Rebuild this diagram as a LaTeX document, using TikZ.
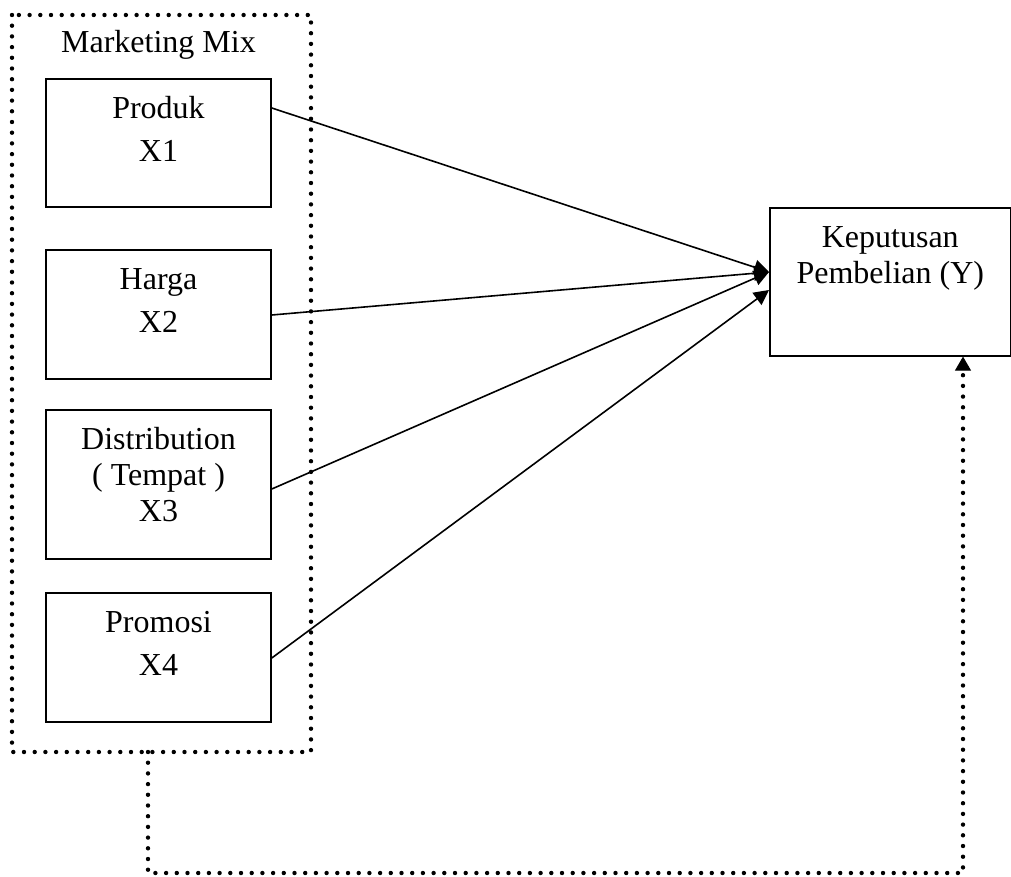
\documentclass[tikz,border=0pt]{standalone}
\usepackage{fontspec}
\setmainfont{Liberation Serif}
\usetikzlibrary{arrows.meta, positioning}

\begin{document}
\begin{tikzpicture}[x=0.5pt, y=-0.5pt, every node/.style={font=\fontsize{16}{18}\selectfont}]
			\tikzstyle{varbox}=[draw, line width=0.8pt, rectangle, anchor=north, inner sep=0pt, minimum width=112.5pt, align=center]
			\tikzstyle{dotline}=[line width=2.2pt, line cap=round, dash pattern=on 0pt off 5.35pt]
			\tikzstyle{arr}=[line width=0.8pt, -{Triangle[length=7.5pt, width=7.5pt]}]
			
			\useasboundingbox (0,0) rectangle (1011,877);
			%%
			\node (x1) at (158.5,78) [varbox, text height=41.5pt, text depth=22.5pt] {Produk\\[3.5pt]X1};
			\node (x2) at (158.5,249) [varbox, text height=41.5pt, text depth=23pt] {Harga\\[3.5pt]X2};
			\node (x3) at (158.5,409) [varbox, text height=56pt, text depth=18.5pt] {Distribution\\( Tempat )\\X3};
			\node (x4) at (158.5,592) [varbox, text height=41.5pt, text depth=23pt] {Promosi\\[3.5pt]X4};
			\node (kp) at (769,207) [varbox, anchor=north west, minimum width=120.5pt, text height=38pt, text depth=36pt] {Keputusan\\Pembelian (Y)};
			
			\node [above=12.5pt of x1.north, anchor=base](mixlbl) {Marketing Mix};
			
			\draw [dotline] (12,15) rectangle (311,752);
			
			\draw [arr] ([yshift=-15pt]x1.north east) -- ([yshift=-32.5pt]kp.north west);
			\draw [arr] ([yshift=-33pt]x2.north east) -- ([yshift=-32.5pt]kp.north west);
			\draw [arr] ([yshift=-40pt]x3.north east) -- ([yshift=-32.5pt]kp.north west);
			\draw [arr] ([yshift=-33pt]x4.north east) -- ([yshift=-41.5pt]kp.north west);
			
			%% dotted link from the mix to the decision
			\coordinate (mixfoot) at (148,752);
			\coordinate (c1) at (148,873);
			\coordinate (c2) at (963,873);
			\draw [dotline, -{Triangle[length=7pt, width=8pt, line width=0.5pt]}] (mixfoot) -- (c1) -- (c2) -- (c2 |- kp.south);
\end{tikzpicture}
\end{document}
